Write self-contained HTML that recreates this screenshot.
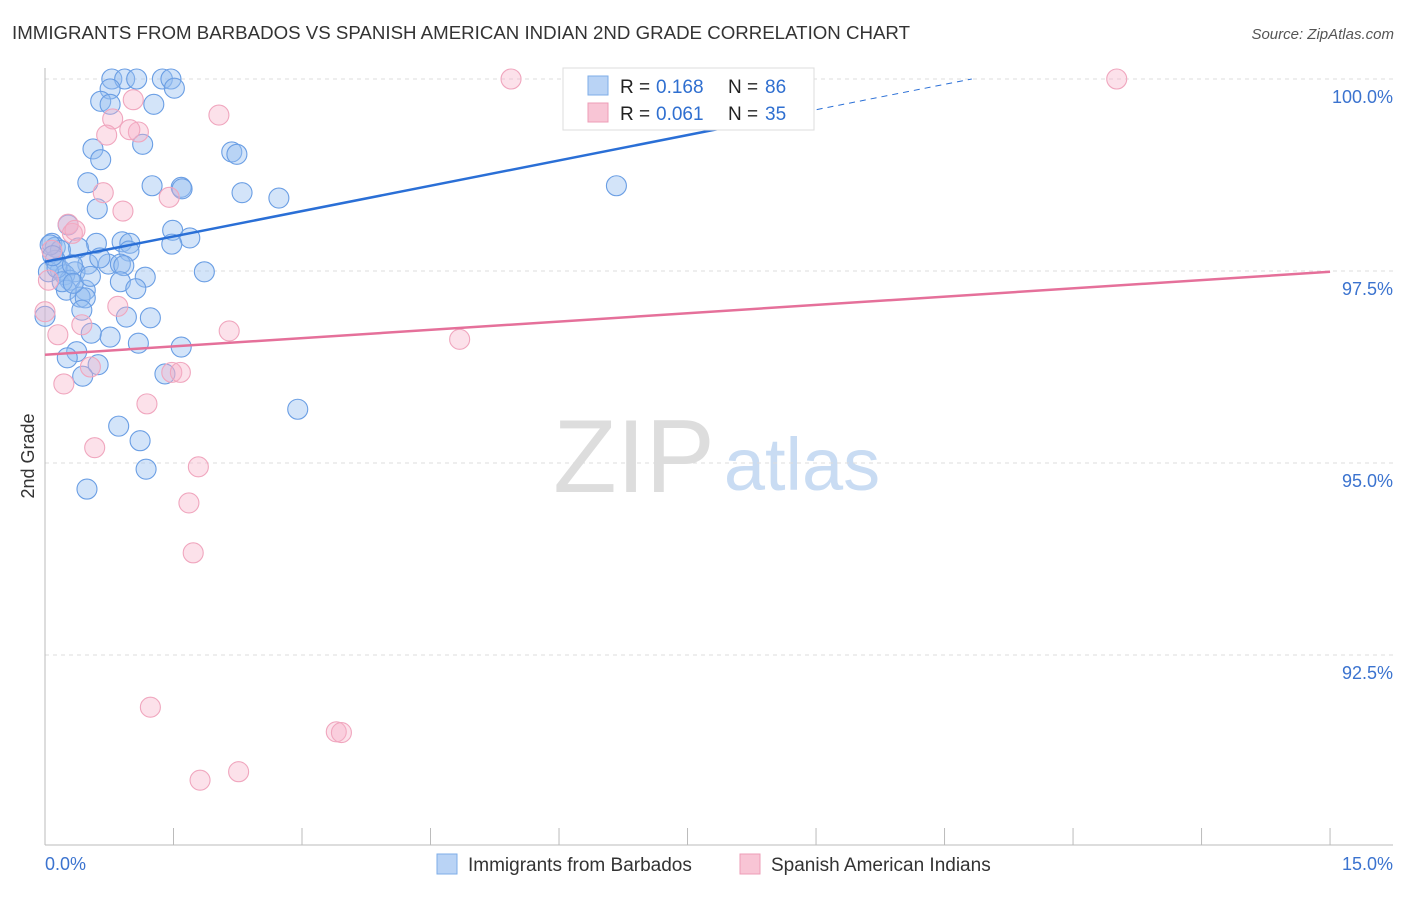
<!DOCTYPE html>
<html><head><meta charset="utf-8"><style>
body{margin:0;background:#fff;font-family:"Liberation Sans",sans-serif;}
svg text{font-family:"Liberation Sans",sans-serif;}
</style></head><body>
<svg id="chart" width="1406" height="892" xmlns="http://www.w3.org/2000/svg">
<text x="12" y="39" font-size="18" fill="#333" textLength="898" lengthAdjust="spacingAndGlyphs">IMMIGRANTS FROM BARBADOS VS SPANISH AMERICAN INDIAN 2ND GRADE CORRELATION CHART</text>
<text x="1394" y="39" font-size="15" fill="#555" text-anchor="end" font-style="italic">Source: ZipAtlas.com</text>
<text transform="translate(34,456) rotate(-90)" font-size="18" fill="#333" text-anchor="middle">2nd Grade</text>
<g>
<text x="634" y="492" font-size="104" fill="#ddd" text-anchor="middle" font-family="Liberation Serif">ZIP</text>
<text x="802" y="490" font-size="74" fill="#c9dcf3" text-anchor="middle">atlas</text>
</g>
<g id="grid"></g><g id="axes"></g><g id="pts"></g><g id="trends"></g>
<g>
<rect x="563" y="68" width="251" height="62" fill="#fff" stroke="#ddd"/>
<rect x="588" y="76" width="20" height="19" fill="#b9d3f5" stroke="#7eaee8"/>
<rect x="588" y="103" width="20" height="19" fill="#f8c5d5" stroke="#ee9db7"/>
<text x="620" y="93" font-size="19" fill="#222">R =</text>
<text x="656" y="93" font-size="19" fill="#2f6fd0">0.168</text>
<text x="728" y="93" font-size="19" fill="#222">N =</text>
<text x="765" y="93" font-size="19" fill="#2f6fd0">86</text>
<text x="620" y="120" font-size="19" fill="#222">R =</text>
<text x="656" y="120" font-size="19" fill="#2f6fd0">0.061</text>
<text x="728" y="120" font-size="19" fill="#222">N =</text>
<text x="765" y="120" font-size="19" fill="#2f6fd0">35</text>
</g>
<g>
<rect x="437" y="854" width="20" height="20" fill="#b9d3f5" stroke="#7eaee8"/>
<text x="468" y="871" font-size="19" fill="#333">Immigrants from Barbados</text>
<rect x="740" y="854" width="20" height="20" fill="#f8c5d5" stroke="#ee9db7"/>
<text x="771" y="871" font-size="19" fill="#333">Spanish American Indians</text>
</g>
</svg>
<script>
const yTicks=[100,97.5,95,92.5];
const yTickLabels=["100.0%","97.5%","95.0%","92.5%"];
const xTickVals=[0,1.5,3,4.5,6,7.5,9,10.5,12,13.5,15];
const xEndLabels=["0.0%","15.0%"];
const blueX=[0.78,0.93,1.07,1.37,1.47,0.76,1.51,0.65,0.76,1.27,0.56,0.65,1.14,2.18,2.24,0.50,1.25,1.59,1.60,2.30,2.73,6.67,0.61,0.27,1.49,1.69,0.60,0.90,0.99,1.48,0.08,0.12,0.39,0.18,0.98,0.12,0.74,0.88,0.92,0.50,1.86,1.17,0.18,0.35,0.23,0.29,0.47,0.88,1.06,0.25,0.41,0.47,0.43,0.95,1.23,0.76,0.54,1.09,1.59,0.37,0.26,0.62,1.40,0.44,2.95,0.86,1.11,1.18,0.49,0.06,0.04,0.14,0.32,0.20,0.09,0.33,0.53,0.64,0.0];
const blueY=[100,100,100,100,100,99.87,99.88,99.71,99.67,99.67,99.09,98.95,99.15,99.05,99.02,98.65,98.61,98.59,98.57,98.52,98.45,98.61,98.31,98.10,98.03,97.93,97.86,97.88,97.86,97.85,97.86,97.81,97.80,97.77,97.76,97.64,97.59,97.59,97.57,97.59,97.49,97.42,97.51,97.49,97.45,97.38,97.25,97.36,97.27,97.25,97.16,97.15,96.99,96.90,96.89,96.64,96.69,96.56,96.51,96.45,96.37,96.28,96.16,96.13,95.70,95.48,95.29,94.92,94.66,97.84,97.49,97.54,97.58,97.36,97.70,97.34,97.43,97.67,96.91];
const pinkX=[5.44,12.51,1.03,2.03,0.79,1.09,0.99,0.72,0.68,1.45,0.91,0.27,0.32,0.08,0,0.85,2.15,0.15,0.43,4.84,0.53,1.48,1.58,0.22,1.19,0.58,1.79,1.68,1.73,1.23,3.40,3.46,1.81,2.26,0.04,0.35];
const pinkY=[100,100,99.73,99.53,99.48,99.31,99.34,99.27,98.52,98.46,98.28,98.11,97.99,97.77,96.97,97.04,96.72,96.67,96.80,96.61,96.25,96.18,96.18,96.03,95.77,95.20,94.95,94.48,93.83,91.82,91.50,91.49,90.87,90.98,97.38,98.03];
const blueTrend=[97.62,0.22];
const pinkTrend=[96.41,0.072];
const NS="http://www.w3.org/2000/svg";
const X=v=>45+v*85.67, Y=v=>79+(100-v)*76.8;
function mk(tag,attrs,parent){const e=document.createElementNS(NS,tag);for(const k in attrs)e.setAttribute(k,attrs[k]);document.getElementById(parent).appendChild(e);return e;}
yTicks.forEach((t,i)=>{
 const l=mk('line',{x1:45,x2:1393,y1:Y(t),y2:Y(t),stroke:'#ddd','stroke-dasharray':'4,4'},'grid');
 
 
 const tx=mk('text',{x:1393,y:Y(t)+24,'font-size':18,fill:'#3b73cf','text-anchor':'end'},'axes');
 tx.textContent=yTickLabels[i];
 
 
});
const ax=mk('line',{x1:45,x2:1393,y1:845,y2:845,stroke:'#bbb'},'axes');


const ay=mk('line',{x1:45,x2:45,y1:68,y2:845,stroke:'#bbb'},'axes');


xTickVals.forEach(v=>{
 const t=mk('line',{x1:X(v),x2:X(v),y1:828,y2:845,stroke:'#bbb'},'axes');
 
 
});
const xl0=mk('text',{x:45,y:870,'font-size':18,fill:'#3b73cf'},'axes');xl0.textContent=xEndLabels[0];


const xl1=mk('text',{x:1393,y:870,'font-size':18,fill:'#3b73cf','text-anchor':'end'},'axes');xl1.textContent=xEndLabels[1];


blueX.forEach((v,i)=>{
 const c=mk('circle',{cx:X(v),cy:Y(blueY[i]),r:10,fill:'rgba(150,190,240,0.42)',stroke:'#6a9ee4','stroke-width':1.1},'pts');
 
 
});
pinkX.forEach((v,i)=>{
 const c=mk('circle',{cx:X(v),cy:Y(pinkY[i]),r:10,fill:'rgba(248,175,200,0.38)',stroke:'#f0a6be','stroke-width':1.1},'pts');
 
 
});
const bEnd=(100-blueTrend[0])/blueTrend[1];
const b1=mk('line',{x1:X(0),y1:Y(blueTrend[0]),x2:X(8),y2:Y(blueTrend[0]+blueTrend[1]*8),stroke:'#2a6fd6','stroke-width':2.5},'trends');


const b2=mk('line',{x1:X(8),y1:Y(blueTrend[0]+blueTrend[1]*8),x2:X(bEnd),y2:Y(100),stroke:'#2a6fd6','stroke-width':1,'stroke-dasharray':'6,5'},'trends');


const p1=mk('line',{x1:X(0),y1:Y(pinkTrend[0]),x2:X(15),y2:Y(pinkTrend[0]+pinkTrend[1]*15),stroke:'#e5709a','stroke-width':2.5},'trends');


</script>
</body></html>
